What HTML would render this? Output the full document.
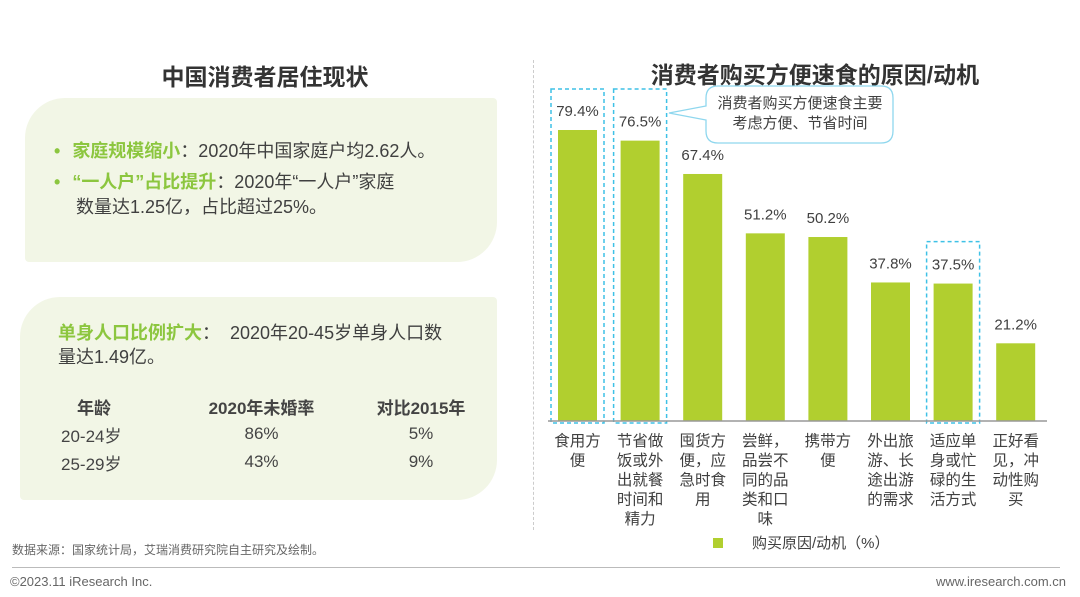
<!DOCTYPE html>
<html><head><meta charset="utf-8">
<style>
body{margin:0;width:1080px;height:597px;background:#fff;overflow:hidden;position:relative;font-family:"Liberation Sans","Noto Sans CJK SC",sans-serif;color:#404040}
.abs{position:absolute}
.panel{position:absolute;background:#f2f6e6;border-radius:40px 4px 40px 4px}
.g{color:#8cc63f;font-weight:bold}
</style></head><body>
<div class="abs" style="left:40px;top:58px;width:450px;text-align:center;font-size:23px;font-weight:bold;color:#333">中国消费者居住现状</div>
<div class="panel" style="left:25px;top:98px;width:472px;height:164px"></div>
<div class="abs" style="left:54px;top:136px;font-size:18px;line-height:31px;width:430px">
<div><span class="g" style="margin-right:12px">•</span><span class="g">家庭规模缩小</span>：2020年中国家庭户均2.62人。</div>
<div><span class="g" style="margin-right:12px">•</span><span class="g">“一人户”占比提升</span>：2020年“一人户”家庭</div>
<div style="padding-left:22px;margin-top:-6px">数量达1.25亿，占比超过25%。</div></div>
<div class="panel" style="left:20px;top:297px;width:477px;height:203px"></div>
<div class="abs" style="left:58px;top:321px;font-size:18px;line-height:24px;width:420px"><span class="g">单身人口比例扩大</span>：&nbsp; 2020年20-45岁单身人口数<br>量达1.49亿。</div>
<table class="abs" style="left:55px;top:392px;border-collapse:collapse;font-size:17px;color:#444">
<tr style="font-weight:bold;height:28px"><td style="width:100px;padding-left:22px">年龄</td><td style="width:165px;text-align:center">2020年未婚率</td><td style="width:150px;text-align:center">对比2015年</td></tr>
<tr style="height:28px"><td style="padding-left:6px">20-24岁</td><td style="text-align:center">86%</td><td style="text-align:center">5%</td></tr>
<tr style="height:28px"><td style="padding-left:6px">25-29岁</td><td style="text-align:center">43%</td><td style="text-align:center">9%</td></tr></table>
<div class="abs" style="left:12px;top:541px;font-size:12px;color:#666">数据来源：国家统计局，艾瑞消费研究院自主研究及绘制。</div>
<div class="abs" style="left:533px;top:60px;height:470px;border-left:1px dashed #ccc"></div>
<div class="abs" style="left:12px;top:567px;width:1048px;height:1px;background:#bbb"></div>
<div class="abs" style="left:10px;top:574px;font-size:13px;color:#666">©2023.11 iResearch Inc.</div>
<div class="abs" style="right:14px;top:574px;font-size:13px;color:#666">www.iresearch.com.cn</div>
<div class="abs" style="left:560px;top:56px;width:510px;text-align:center;font-size:23px;font-weight:bold;color:#333">消费者购买方便速食的原因/动机</div>
<svg class="abs" style="left:0;top:0" width="1080" height="597" id="chart"></svg>
<script>
const categories=[["食用方","便"],["节省做","饭或外","出就餐","时间和","精力"],["囤货方","便，应","急时食","用"],["尝鲜，","品尝不","同的品","类和口","味"],["携带方","便"],["外出旅","游、长","途出游","的需求"],["适应单","身或忙","碌的生","活方式"],["正好看","见，冲","动性购","买"]];
const values=[79.4,76.5,67.4,51.2,50.2,37.8,37.5,21.2];
const highlighted=[0,1,6];
const NS="http://www.w3.org/2000/svg",svg=document.getElementById('chart');
const base=421,scale=3.665,x0=577.5,pitch=62.6,bw=39;
const xc=i=>x0+i*pitch, y=v=>base-v*scale;
function mk(t,a,txt){const e=document.createElementNS(NS,t);for(const k in a)e.setAttribute(k,a[k]);if(txt!=null)e.textContent=txt;svg.appendChild(e);return e;}
values.forEach((v,i)=>{
 const r=mk('rect',{x:xc(i)-bw/2,y:y(v),width:bw,height:v*scale,fill:'#b1cf2f'});
 
 
 const t=mk('text',{x:xc(i),y:y(v)-14,'text-anchor':'middle','font-size':15,fill:'#404040'},v.toFixed(1)+'%');
 
 
 categories[i].forEach((line,j)=>{
  const c=mk('text',{x:xc(i),y:446+j*19.5,'text-anchor':'middle','font-size':15.5,fill:'#404040'},line);
  
  
 });
});
highlighted.forEach(i=>{
 const top=y(values[i])-42;
 const b=mk('rect',{x:xc(i)-26.5,y:i<2?89:top,width:53,height:base+2-(i<2?89:top),fill:'none',stroke:'#3ec1e6','stroke-width':1.5,'stroke-dasharray':'4,3'});
 
 
});
const ax=mk('line',{x1:548,x2:1047,y1:base,y2:base,stroke:'#999','stroke-width':1.5});


const co=mk('path',{d:'M718,86 H881 Q893,86 893,98 V131 Q893,143 881,143 H718 Q706,143 706,131 V120 L669,113 L706,106 V98 Q706,86 718,86 Z',fill:'#fff',stroke:'#8fd7ee','stroke-width':1.3});


mk('text',{x:800,y:108,'text-anchor':'middle','font-size':15,fill:'#404040'},'消费者购买方便速食主要');
mk('text',{x:800,y:128,'text-anchor':'middle','font-size':15,fill:'#404040'},'考虑方便、节省时间');
const lg=mk('rect',{x:713,y:538,width:10,height:10,fill:'#b1cf2f'});


const lt=mk('text',{x:752,y:548,'font-size':15,fill:'#404040'},'购买原因/动机（%）');


</script>
</body></html>
